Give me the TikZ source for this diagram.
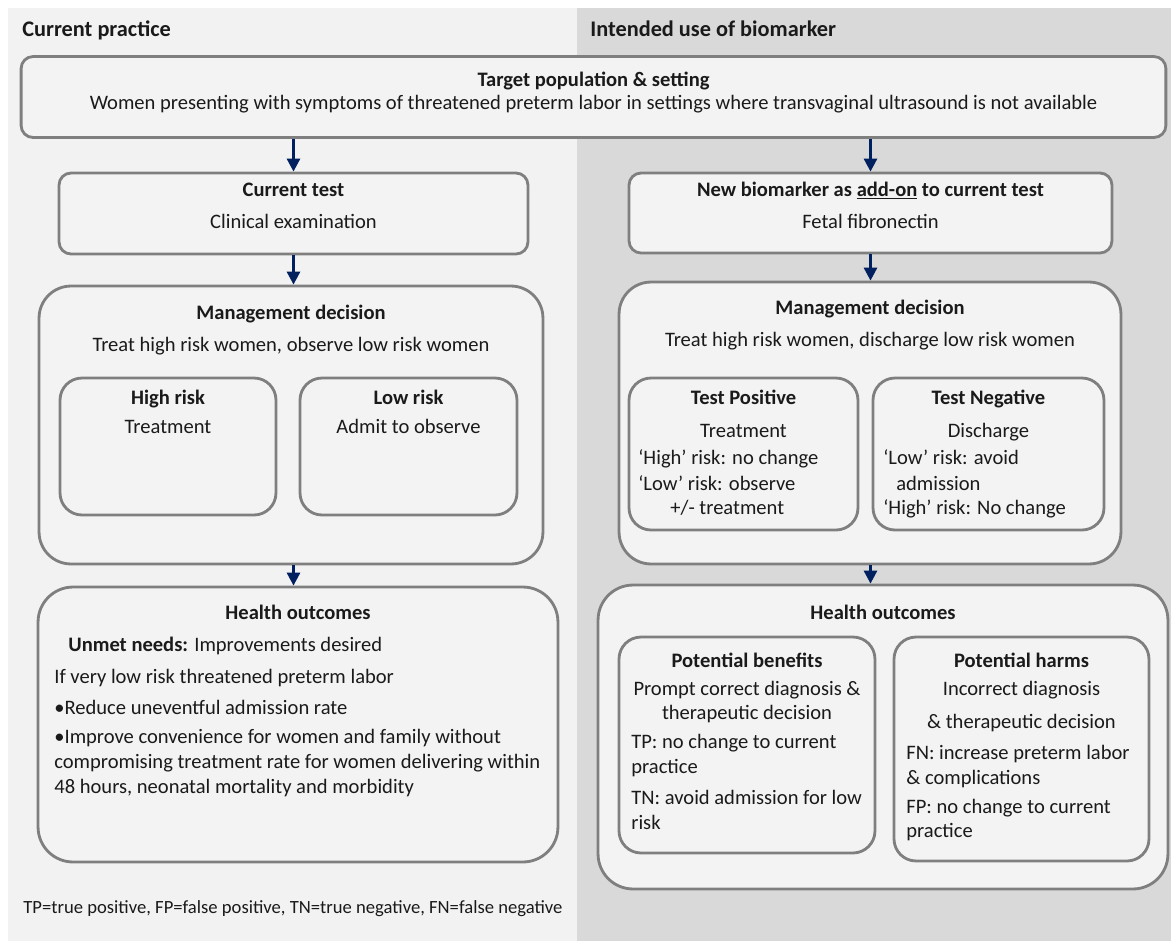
\documentclass[tikz,border=0pt]{standalone}
\usepackage{fontspec}
\setmainfont{Carlito}
\usepackage{tikz}
\usetikzlibrary{arrows.meta,positioning,calc}
\definecolor{lpanel}{HTML}{F2F2F2}
\definecolor{rpanel}{HTML}{D9D9D9}
\definecolor{boxfill}{HTML}{F3F3F3}
\definecolor{bordgrey}{HTML}{7F7F7F}
\definecolor{navy}{HTML}{002060}
\definecolor{txt}{HTML}{1A1A1A}
\tikzset{
  box/.style={draw=bordgrey,line width=1.6pt,fill=boxfill,inner sep=0pt},
  hd/.style={font=\fontsize{11.7}{14}\selectfont\bfseries,text=txt,inner sep=0pt,anchor=base},
  tx/.style={font=\fontsize{11.7}{14}\selectfont,text=txt,inner sep=0pt,anchor=base},
  txl/.style={tx,anchor=base west},
  colhd/.style={font=\fontsize{12.7}{15}\selectfont\bfseries,text=txt,inner sep=0pt,anchor=base west},
  arr/.style={-{Triangle[length=2.6mm,width=2.6mm]},line width=1.6pt,navy},
}

\begin{document}
\begin{tikzpicture}[x=0.02cm,y=-0.02cm]
\useasboundingbox (0,0) rectangle (1171,941);
% background panels
\fill[lpanel] (8,8) rectangle (577,941);
\fill[rpanel] (577,8) rectangle (1171,941);
\node[colhd] (hleft) at (22,36) {Current practice};
\node[colhd] (hright) at (590,36) {Intended use of biomarker};
% target population
\node[box,rounded corners=0.24cm,minimum width=22.9cm,minimum height=1.62cm] (target) at (593.5,97) {};
\node[hd] (targett) at (593.5,86) {Target population \& setting};
\node[tx] (targetx) at (593.5,109) {Women presenting with symptoms of threatened preterm labor in settings where transvaginal ultrasound is not available};
% current practice column
\node[box,rounded corners=0.24cm,minimum width=9.38cm,minimum height=1.62cm] (ctest) at (293.5,213.5) {};
\node[hd] (ctestt) at (293.5,196) {Current test};
\node[tx] (ctestx) at (293.5,228) {Clinical examination};
\node[box,rounded corners=0.64cm,minimum width=10.08cm,minimum height=5.56cm] (lmgmt) at (291,425) {};
\node[hd] (lmgmtt) at (291,319) {Management decision};
\node[tx] (lmgmtx) at (291,351) {Treat high risk women, observe low risk women};
\node[box,rounded corners=0.44cm,minimum width=4.32cm,minimum height=2.74cm] (highrisk) at (168,446.5) {};
\node[hd] (highriskt) at (168,404) {High risk};
\node[tx] (highriskx) at (168,433) {Treatment};
\node[box,rounded corners=0.44cm,minimum width=4.34cm,minimum height=2.74cm] (lowrisk) at (408.5,446.5) {};
\node[hd] (lowriskt) at (408.5,404) {Low risk};
\node[tx] (lowriskx) at (408.5,433) {Admit to observe};
\node[box,rounded corners=0.7cm,minimum width=10.4cm,minimum height=5.5cm] (lhealth) at (298,724.5) {};
\node[hd] (lhealtht) at (298,619) {Health outcomes};
\node[txl] (unmet) at (68,651) {\textbf{Unmet needs:} Improvements desired};
\node[txl] (verylow) at (54,683) {If very low risk threatened preterm labor};
\node[txl] (bulla) at (54,714) {•Reduce uneventful admission rate};
\node[txl] (bullb) at (54,743) {•Improve convenience for women and family without};
\node[txl] (bullc) at (54,768) {compromising treatment rate for women delivering within};
\node[txl] (bulld) at (54,793) {48 hours, neonatal mortality and morbidity};
\node[txl,font=\fontsize{10.6}{12}\selectfont] (foot) at (23,913) {TP=true positive, FP=false positive, TN=true negative, FN=false negative};
% biomarker column
\node[box,rounded corners=0.24cm,minimum width=9.66cm,minimum height=1.6cm] (newbio) at (870.5,213) {};
\node[hd] (newbiot) at (870.5,196) {New biomarker as \underline{add-on} to current test};
\node[tx] (newbiox) at (870.5,228) {Fetal fibronectin};
\node[box,rounded corners=0.64cm,minimum width=10.04cm,minimum height=5.64cm] (rmgmt) at (870,423) {};
\node[hd] (rmgmtt) at (870,314) {Management decision};
\node[tx] (rmgmtx) at (870,346) {Treat high risk women, discharge low risk women};
\node[box,rounded corners=0.44cm,minimum width=4.58cm,minimum height=3.04cm] (testpos) at (743.5,454) {};
\node[hd] (testpost) at (743.5,404) {Test Positive};
\node[tx] (testposx) at (743.5,437) {Treatment};
\node[txl] (tpa) at (638,464) {‘High’ risk: no change};
\node[txl] (tpb) at (638,490) {‘Low’ risk: observe};
\node[txl] (tpc) at (670,514) {+/- treatment};
\node[box,rounded corners=0.44cm,minimum width=4.62cm,minimum height=3.04cm] (testneg) at (988.5,454) {};
\node[hd] (testnegt) at (988.5,404) {Test Negative};
\node[tx] (testnegx) at (988.5,437) {Discharge};
\node[txl] (tna) at (883,464) {‘Low’ risk: avoid};
\node[txl] (tnb) at (896,490) {admission};
\node[txl] (tnc) at (883,514) {‘High’ risk: No change};
\node[box,rounded corners=0.7cm,minimum width=11.4cm,minimum height=6.08cm] (rhealth) at (883,737) {};
\node[hd] (rhealtht) at (883,619) {Health outcomes};
\node[box,rounded corners=0.44cm,minimum width=5.12cm,minimum height=4.32cm] (benefits) at (747,745) {};
\node[hd] (benefitst) at (747,667) {Potential benefits};
\node[tx] (benefitsa) at (747,695) {Prompt correct diagnosis \&};
\node[tx] (benefitsb) at (747,719) {therapeutic decision};
\node[txl] (benefitsc) at (631,748) {TP: no change to current};
\node[txl] (benefitsd) at (631,773) {practice};
\node[txl] (benefitse) at (631,804) {TN: avoid admission for low};
\node[txl] (benefitsf) at (631,829) {risk};
\node[box,rounded corners=0.44cm,minimum width=5.1cm,minimum height=4.48cm] (harms) at (1021.5,749) {};
\node[hd] (harmst) at (1021.5,667) {Potential harms};
\node[tx] (harmsa) at (1021.5,695) {Incorrect diagnosis};
\node[tx] (harmsb) at (1021.5,728) {\& therapeutic decision};
\node[txl] (harmsc) at (906,759) {FN: increase preterm labor};
\node[txl] (harmsd) at (906,784) {\& complications};
\node[txl] (harmse) at (906,813) {FP: no change to current};
\node[txl] (harmsf) at (906,837) {practice};
% arrows
\draw[arr] (ctest.north |- target.south) -- (ctest.north);
\draw[arr] (ctest.south) -- (ctest.south |- lmgmt.north);
\draw[arr] (ctest.south |- lmgmt.south) -- (ctest.south |- lhealth.north);
\draw[arr] (newbio.north |- target.south) -- (newbio.north);
\draw[arr] (newbio.south) -- (newbio.south |- rmgmt.north);
\draw[arr] (newbio.south |- rmgmt.south) -- (newbio.south |- rhealth.north);
\end{tikzpicture}
\end{document}
